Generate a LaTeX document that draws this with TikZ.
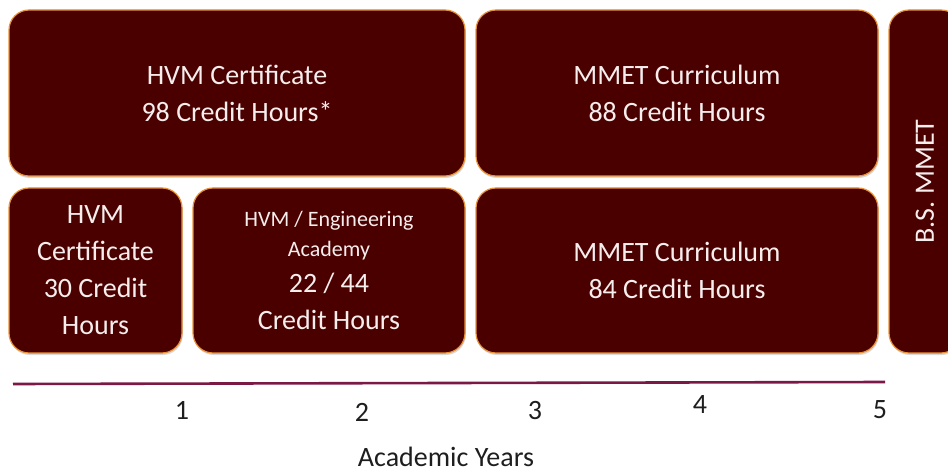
\documentclass[tikz,border=0pt]{standalone}
\usepackage{fontspec}
\setmainfont{Carlito}
\usepackage{tikz}
\usetikzlibrary{shadows}
\usetikzlibrary{positioning}
\definecolor{Maroon}{HTML}{4B0000}
\definecolor{Edge}{HTML}{E89238}
\definecolor{Ink}{HTML}{F6EDED}
\definecolor{Axis}{HTML}{7A1846}
\definecolor{Year}{HTML}{1E1E1E}
\tikzset{
  % soft shadow under the blocks
  every shadow/.style={opacity=.3,shadow xshift=.8pt,shadow yshift=-2pt},
  % one block of the plan
  block/.style={
    rectangle,rounded corners=20pt,
    fill=Maroon,draw=Edge,line width=1.2pt,drop shadow,
    inner sep=0pt,outer sep=0pt,align=flush center,
    text=Ink,font=\fontsize{28}{37}\selectfont,
  },
  axisline/.style={Axis,line width=2.6pt},
  yearlabel/.style={Year,inner sep=1pt,font=\fontsize{28}{34}\selectfont},
}
\begin{document}
\begin{tikzpicture}[x=1pt,y=-1pt]
  \useasboundingbox (0,0) rectangle (948,473);
  \clip (0,0) rectangle (948,473);

  % top row
  \node[block,minimum width=456pt,minimum height=166pt,text width=440pt]
    (hvmA) at (237,93) {HVM Certificate\\98 Credit Hours*};
  \node[block,minimum width=402pt,minimum height=166pt,text width=390pt]
    (mmetA) at (677,93) {MMET Curriculum\\88 Credit Hours};

  % bottom row
  \node[block,minimum width=173pt,minimum height=165pt,text width=165pt]
    (hvmB) at (95.5,270.5) {HVM\\Certificate\\30 Credit\\Hours};
  \node[block,minimum width=272pt,minimum height=165pt,text width=260pt]
    (acad) at (329,270.5)
    {\fontsize{22}{30}\selectfont HVM / Engineering\\Academy\\
     \fontsize{28}{36}\selectfont 22 / 44\\Credit Hours};
  \node[block,minimum width=402pt,minimum height=165pt,text width=390pt]
    (mmetB) at (677,270.5) {MMET Curriculum\\84 Credit Hours};

  % degree bar, cut by the right margin
  \node[block,minimum width=72pt,minimum height=343pt] (bs) at (925,181.5) {};
  \node[rotate=90,text=Ink,font=\fontsize{28}{34}\selectfont] (bslabel)
    at (bs.center) {B.S. MMET};

  % time axis
  \coordinate (axisL) at (13,384);
  \coordinate (axisR) at (885,382);
  \draw[axisline] (axisL) -- (axisR);
  \node[yearlabel] (yr1) at (182,410) {1};
  \node[yearlabel] (yr2) at (362,412) {2};
  \node[yearlabel] (yr3) at (535,411) {3};
  \node[yearlabel] (yr4) at (700,405) {4};
  \node[yearlabel] (yr5) at (880,410) {5};
  \node[yearlabel] (years) at (446,457) {Academic Years};
\end{tikzpicture}
\end{document}
